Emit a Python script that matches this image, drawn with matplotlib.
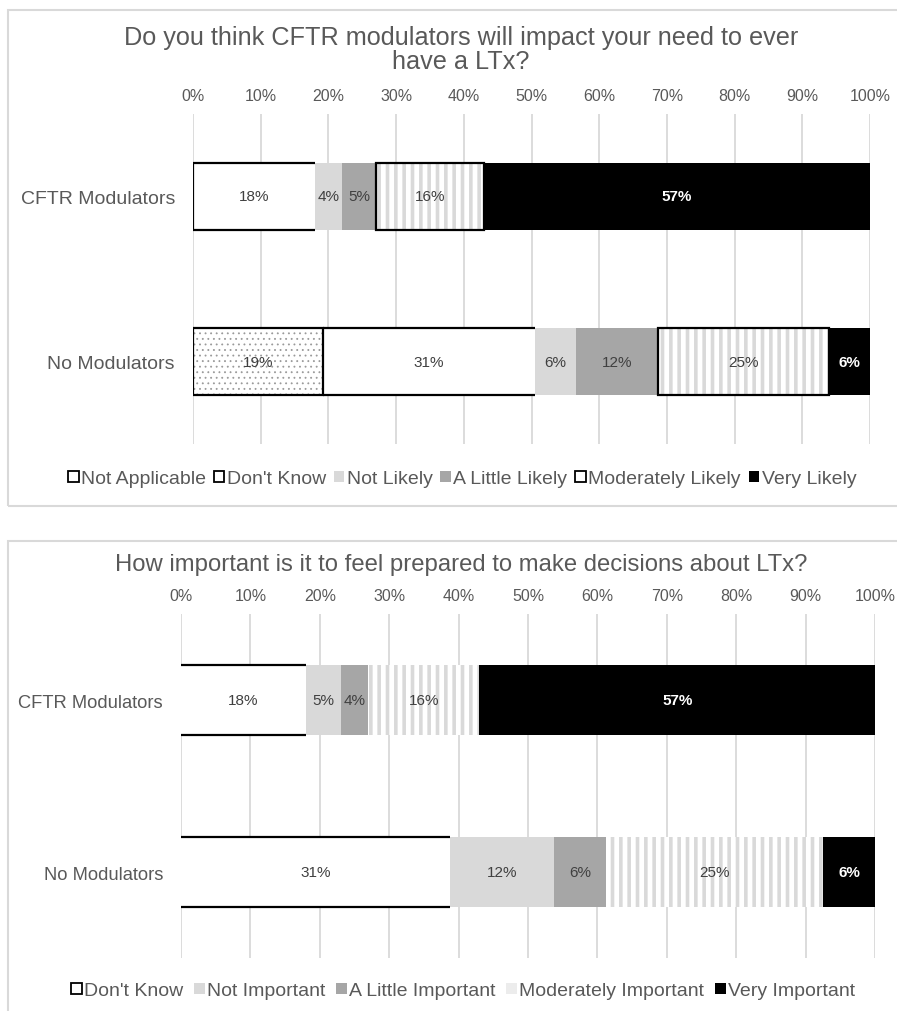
import matplotlib
matplotlib.use("Agg")
import matplotlib.pyplot as plt
from matplotlib.patches import Patch, Rectangle
import numpy as np

plt.rcParams['font.family'] = ['Liberation Sans', 'DejaVu Sans']
plt.rcParams['hatch.linewidth'] = 2.6

TXT = '#595959'
GRID = '#d9d9d9'

# --- data ---
groups = ['CFTR Modulators', 'No Modulators']

top_title = 'Do you think CFTR modulators will impact your need to ever\nhave a LTx?'
top_series = ['Not Applicable', "Don't Know", 'Not Likely', 'A Little Likely',
              'Moderately Likely', 'Very Likely']
top_values = [
    [0, 19],    # Not Applicable
    [18, 31],   # Don't Know
    [4, 6],     # Not Likely
    [5, 12],    # A Little Likely
    [16, 25],   # Moderately Likely
    [57, 6],    # Very Likely
]

bottom_title = 'How important is it to feel prepared to make decisions about LTx?'
bottom_series = ["Don't Know", 'Not Important', 'A Little Important',
                 'Moderately Important', 'Very Important']
bottom_values = [
    [18, 31],   # Don't Know
    [5, 12],    # Not Important
    [4, 6],     # A Little Important
    [16, 25],   # Moderately Important
    [57, 6],    # Very Important
]

ticks = np.arange(0, 101, 10)

# fill styles: (face, hatch, hatch colour, outline mode, label colour)
dots = ('white', '...', '#9a9a9a', 'box', '#404040')
blank = ('white', None, None, 'lines', '#404040')
light = ('#d9d9d9', None, None, None, '#404040')
mid = ('#a6a6a6', None, None, None, '#404040')
stripe_box = ('white', '||', '#d9d9d9', 'box', '#404040')
stripe = ('white', '||', '#d9d9d9', None, '#404040')
solid = ('black', None, None, None, 'white')

top_styles = [dots, blank, light, mid, stripe_box, solid]
bottom_styles = [blank, light, mid, stripe, solid]


def draw_panel(ax, series, values, styles, height, cat_size):
    vals = np.array(values, dtype=float)
    totals = vals.sum(axis=0)
    pct = vals / totals * 100
    y = np.arange(len(groups))
    left = np.zeros(len(groups))
    for name, raw, w, st in zip(series, vals, pct, styles):
        face, hatch, hcol, outline, tcol = st
        bars = ax.barh(y, w, left=left, height=height, color=face,
                       hatch=hatch, edgecolor=hcol if hcol else face,
                       linewidth=0, zorder=2)
        if hatch == '...':
            for b in bars:
                if hasattr(b, 'set_hatch_linewidth'):
                    b.set_hatch_linewidth(0.6)
        if outline == 'box':
            ax.barh(y, w, left=left, height=height, fill=False,
                    edgecolor='black', linewidth=1.6, zorder=3)
        elif outline == 'lines':
            for yi, l, wi in zip(y, left, w):
                if wi > 0:
                    ax.hlines([yi - height / 2, yi + height / 2], l, l + wi,
                              color='black', linewidth=1.6, zorder=3)
        labels = [f'{int(v)}%' if v > 0 else '' for v in raw]
        ax.bar_label(bars, labels=labels, label_type='center', fontsize=11,
                     color=tcol, fontweight='bold' if face == 'black' else 'normal')
        left = left + w

    ax.set_xlim(0, 100)
    ax.set_ylim(len(groups) - 0.5, -0.5)
    ax.set_yticks(y)
    ax.set_yticklabels(groups, fontsize=cat_size, color=TXT)
    ax.set_xticks(ticks)
    ax.set_xticklabels([f'{t}%' for t in ticks], fontsize=11.5, color=TXT)
    ax.xaxis.tick_top()
    ax.tick_params(axis='both', length=0)
    ax.tick_params(axis='x', pad=8)
    ax.tick_params(axis='y', pad=13)
    ax.grid(axis='x', color=GRID, linewidth=1.3, zorder=0)
    ax.set_axisbelow(True)
    for s in ax.spines.values():
        s.set_visible(False)


def legend_handles(styles, series, outline_marker):
    handles = []
    for st, name, boxed in zip(styles, series, outline_marker):
        face, hatch, hcol, outline, tcol = st
        if boxed:
            handles.append(Patch(facecolor='white', edgecolor='black', linewidth=1.3, label=name))
        elif hatch:
            handles.append(Patch(facecolor='#ececec', edgecolor='#ececec', linewidth=0, label=name))
        else:
            handles.append(Patch(facecolor=face, edgecolor=face, linewidth=0, label=name))
    return handles


W, H = 897, 1012
fig = plt.figure(figsize=(W / 100, H / 100), dpi=100)

# panel frames
fig.patches.append(Rectangle((8 / W, 1 - 507 / H), 1.0, 496 / H, transform=fig.transFigure,
                             fill=False, edgecolor=GRID, linewidth=1.5))
fig.patches.append(Rectangle((8 / W, -0.05), 1.0, 0.05 + 1 - 542 / H, transform=fig.transFigure,
                             fill=False, edgecolor=GRID, linewidth=1.5))

ax1 = fig.add_axes([193 / W, 1 - 445 / H, 677 / W, 330 / H])
draw_panel(ax1, top_series, top_values, top_styles, 0.41, 14)
fig.text(461 / W, 1 - 50 / H, top_title, ha='center', va='center', fontsize=18.2,
         color=TXT, linespacing=1.05)
fig.legend(handles=legend_handles(top_styles, top_series, [True, True, False, False, True, False]),
           loc='center', bbox_to_anchor=(462 / W, 1 - 480 / H), ncol=6, frameon=False,
           fontsize=14, labelcolor=TXT, handlelength=0.55, handleheight=0.55,
           handletextpad=0.12, columnspacing=0.4, borderpad=0)

ax2 = fig.add_axes([181 / W, 1 - 959 / H, 694 / W, 344 / H])
draw_panel(ax2, bottom_series, bottom_values, bottom_styles, 0.405, 13.2)
fig.text(461 / W, 1 - 565 / H, bottom_title, ha='center', va='center', fontsize=17.2,
         color=TXT)
fig.legend(handles=legend_handles(bottom_styles, bottom_series, [True, False, False, False, False]),
           loc='center', bbox_to_anchor=(463 / W, 1 - 992 / H), ncol=5, frameon=False,
           fontsize=14, labelcolor=TXT, handlelength=0.55, handleheight=0.55,
           handletextpad=0.12, columnspacing=0.55, borderpad=0)

fig.savefig('out.png', dpi=100)
